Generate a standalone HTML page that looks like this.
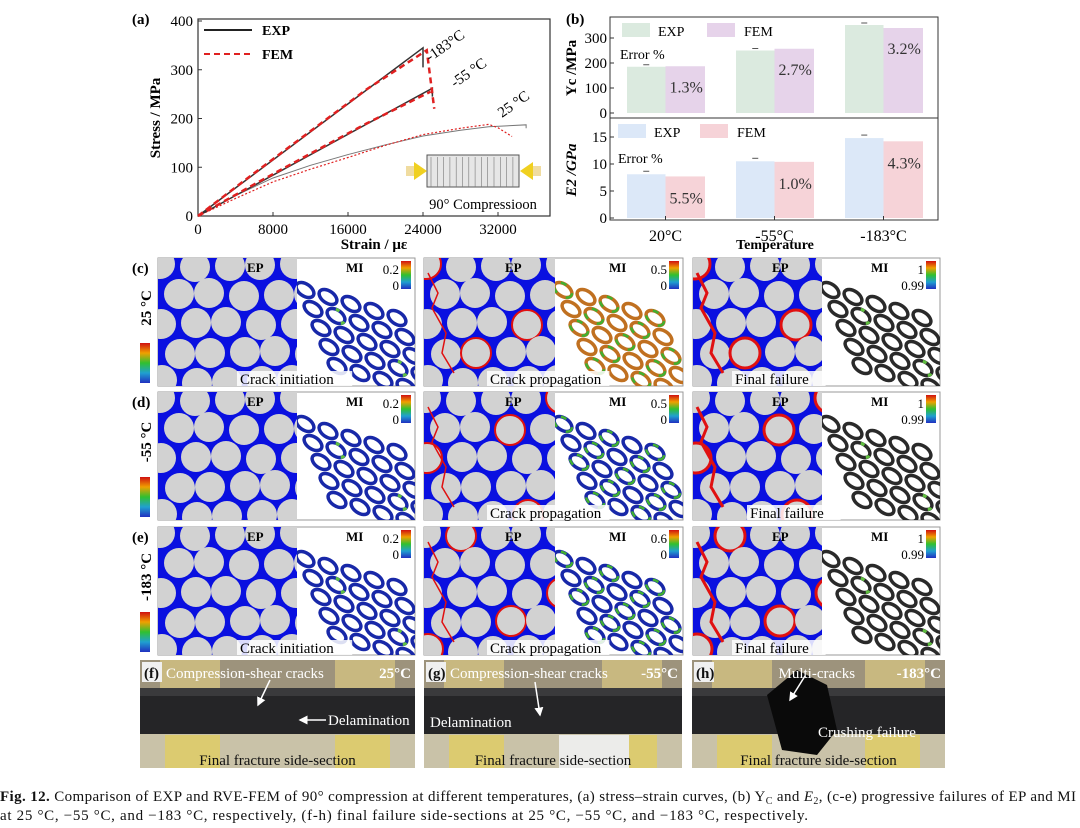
<!DOCTYPE html>
<html><head><meta charset="utf-8">
<style>
html,body{margin:0;padding:0;background:#fff;}
svg{display:block;font-family:"Liberation Serif",serif;}
</style></head>
<body>
<svg id="root" width="1080" height="828" viewBox="0 0 1080 828" xmlns="http://www.w3.org/2000/svg">
<defs>
<linearGradient id="cbar" x1="0" y1="0" x2="0" y2="1">
<stop offset="0" stop-color="#d01010"/><stop offset="0.25" stop-color="#f0a000"/><stop offset="0.5" stop-color="#30c030"/><stop offset="0.75" stop-color="#20a0d0"/><stop offset="1" stop-color="#2030c0"/>
</linearGradient>
<marker id="arr" markerWidth="6" markerHeight="6" refX="5" refY="3" orient="auto"><path d="M0,0 L6,3 L0,6 z" fill="#fff"/></marker>
</defs>
<g id="panelA"></g>
<g id="panelB"></g>
<g id="fe"></g>
<g id="photos"></g>
<g font-size="15" fill="#111">
<text x="0" y="801" textLength="1076" lengthAdjust="spacing"><tspan font-weight="bold">Fig. 12.</tspan>  Comparison of EXP and RVE-FEM of 90° compression at different temperatures, (a) stress–strain curves, (b) Y<tspan font-size="10" dy="3">C</tspan><tspan dy="-3"> and </tspan><tspan font-style="italic">E</tspan><tspan font-size="10" dy="3">2</tspan><tspan dy="-3">, (c-e) progressive failures of EP and MI</tspan></text>
<text x="0" y="820" textLength="808" lengthAdjust="spacing">at 25 °C, −55 °C, and −183 °C, respectively, (f-h) final failure side-sections at 25 °C, −55 °C, and −183 °C, respectively.</text>
</g>
</svg>
<script>
const NS="http://www.w3.org/2000/svg";
function mk(parent,tag,attrs,txt){const e=document.createElementNS(NS,tag);for(const k in attrs)e.setAttribute(k,attrs[k]);if(txt!==undefined)e.textContent=txt;parent.appendChild(e);return e;}

/* ---------- Panel (a) data ---------- */
const strainTicks=[0,8000,16000,24000,32000];
const stressTicks=[0,100,200,300,400];
const exp183X=[0,24000,24000];
const exp183Y=[0,345,305];
const fem183X=[0,6000,12000,18000,24400,25200];
const fem183Y=[0,88,174,260,340,220];
const exp55X=[0,25000,25000];
const exp55Y=[0,262,245];
const fem55X=[0,6000,12000,18000,24800];
const fem55Y=[0,65,128,190,255];
const exp25X=[0,4000,8000,12000,16000,20000,24000,28000,31000,35000,35000];
const exp25Y=[0,42,78,104,126,146,164,176,183,187,180];
const fem25X=[0,4000,8000,12000,16000,20000,24000,28000,31000,32000,33500];
const fem25Y=[0,36,70,96,120,145,167,180,188,181,163];

const A=document.getElementById('panelA');
const ax=v=>198+v*(300/32000);
const ay=v=>216-v*(195/400);
mk(A,'rect',{x:198,y:19,width:352,height:197,fill:'none',stroke:'#333','stroke-width':1.2});
strainTicks.forEach(t=>{const l=mk(A,'line',{x1:ax(t),x2:ax(t),y1:216,y2:212,stroke:'#333'});
 const tx=mk(A,'text',{x:ax(t),y:234,'font-size':15,'text-anchor':'middle'},t);});
stressTicks.forEach(t=>{mk(A,'line',{x1:198,x2:202,y1:ay(t),y2:ay(t),stroke:'#333'});
 const tx=mk(A,'text',{x:193,y:ay(t)+5,'font-size':15,'text-anchor':'end'},t);});
let t1=mk(A,'text',{x:374,y:249,'font-size':15,'font-weight':'bold','text-anchor':'middle'},'Strain / με');
let t2=mk(A,'text',{x:0,y:0,'font-size':15,'font-weight':'bold','text-anchor':'middle',transform:'translate(160,118) rotate(-90)'},'Stress / MPa');
mk(A,'text',{x:132,y:24,'font-size':15,'font-weight':'bold'},'(a)');
function series(xs,ys,style,name){const p=mk(A,'polyline',Object.assign({points:xs.map((x,i)=>ax(x)+','+ay(ys[i])).join(' '),fill:'none'},style));}
series(exp25X,exp25Y,{stroke:'#777','stroke-width':1},'exp-25c');
series(fem25X,fem25Y,{stroke:'#e02020','stroke-width':1.2,'stroke-dasharray':'2,2'},'fem-25c');
series(exp55X,exp55Y,{stroke:'#333','stroke-width':1.5},'exp-55c');
series(fem55X,fem55Y,{stroke:'#e02020','stroke-width':2.5,'stroke-dasharray':'6,4'},'fem-55c');
series(exp183X,exp183Y,{stroke:'#333','stroke-width':1.5},'exp-183c');
series(fem183X,fem183Y,{stroke:'#e02020','stroke-width':2.5,'stroke-dasharray':'6,4'},'fem-183c');
mk(A,'line',{x1:204,x2:252,y1:30,y2:30,stroke:'#222','stroke-width':2});
mk(A,'text',{x:262,y:35,'font-size':14,'font-weight':'bold'},'EXP');
mk(A,'line',{x1:204,x2:252,y1:54,y2:54,stroke:'#e02020','stroke-width':2,'stroke-dasharray':'6,4'});
mk(A,'text',{x:262,y:59,'font-size':14,'font-weight':'bold'},'FEM');
mk(A,'text',{x:0,y:0,'font-size':15,transform:'translate(430,62) rotate(-35)'},'-183°C');
mk(A,'text',{x:0,y:0,'font-size':15,transform:'translate(455,88) rotate(-35)'},'-55 °C');
mk(A,'text',{x:0,y:0,'font-size':15,transform:'translate(502,118) rotate(-35)'},'25 °C');
const ins=mk(A,'g',{});
mk(ins,'rect',{x:427,y:155,width:92,height:32,fill:'#e6e6e6',stroke:'#555'});
for(let i=0;i<14;i++)mk(ins,'line',{x1:431+i*6.3,x2:431+i*6.3,y1:157,y2:187,stroke:'#777','stroke-width':0.6});
mk(ins,'rect',{x:406,y:166,width:8,height:10,fill:'#f0dca0'});
mk(ins,'polygon',{points:'414,162 427,171 414,180',fill:'#f0d020'});
mk(ins,'rect',{x:533,y:166,width:8,height:10,fill:'#f0dca0'});
mk(ins,'polygon',{points:'533,162 520,171 533,180',fill:'#f0d020'});
mk(ins,'text',{x:483,y:209,'font-size':14.5,'text-anchor':'middle'},'90° Compressioon');

/* ---------- Panel (b) data ---------- */
const tempLabels=['20°C','-55°C','-183°C'];
const ycExp=[185,250,352];
const ycFem=[187,257,340];
const ycErr=['1.3%','2.7%','3.2%'];
const e2Exp=[8.1,10.5,14.8];
const e2Fem=[7.7,10.4,14.2];
const e2Err=['5.5%','1.0%','4.3%'];
const ycTicks=[0,100,200,300];
const e2Ticks=[0,5,10,15];

const B=document.getElementById('panelB');
const bx0=610,bx1=938;
const yc=v=>113-v*0.25;
const e2=v=>218-v*(27/5);
const groupX=i=>627+i*109;
const bw=38.5;
mk(B,'text',{x:566,y:24,'font-size':15,'font-weight':'bold'},'(b)');
ycExp.forEach((v,i)=>{let r=mk(B,'rect',{x:groupX(i),y:yc(v),width:bw,height:113-yc(v),fill:'#dbeadf'});
 mk(B,'line',{x1:groupX(i)+bw/2-3,x2:groupX(i)+bw/2+3,y1:yc(v)-2,y2:yc(v)-2,stroke:'#555'});});
ycFem.forEach((v,i)=>{let r=mk(B,'rect',{x:groupX(i)+bw,y:yc(v),width:bw+1,height:113-yc(v),fill:'#e6d3ea'});
 mk(B,'text',{x:groupX(i)+bw+4,y:yc(v)+26,'font-size':16,fill:'#333'},ycErr[i]);});
e2Exp.forEach((v,i)=>{let r=mk(B,'rect',{x:groupX(i),y:e2(v),width:bw,height:218-e2(v),fill:'#dce8f8'});
 mk(B,'line',{x1:groupX(i)+bw/2-3,x2:groupX(i)+bw/2+3,y1:e2(v)-3,y2:e2(v)-3,stroke:'#555'});});
e2Fem.forEach((v,i)=>{let r=mk(B,'rect',{x:groupX(i)+bw,y:e2(v),width:bw+1,height:218-e2(v),fill:'#f6d3d8'});
 mk(B,'text',{x:groupX(i)+bw+4,y:e2(v)+27,'font-size':16,fill:'#333'},e2Err[i]);});
mk(B,'rect',{x:bx0,y:17,width:bx1-bx0,height:101,fill:'none',stroke:'#333'});
mk(B,'rect',{x:bx0,y:118,width:bx1-bx0,height:102,fill:'none',stroke:'#333'});
ycTicks.forEach(t=>{mk(B,'line',{x1:bx0,x2:bx0+4,y1:yc(t),y2:yc(t),stroke:'#333'});let tx=mk(B,'text',{x:bx0-3,y:yc(t)+5,'font-size':15,'text-anchor':'end'},t);});
e2Ticks.forEach(t=>{mk(B,'line',{x1:bx0,x2:bx0+4,y1:e2(t),y2:e2(t),stroke:'#333'});let tx=mk(B,'text',{x:bx0-3,y:e2(t)+5,'font-size':15,'text-anchor':'end'},t);});
tempLabels.forEach((l,i)=>{mk(B,'line',{x1:groupX(i)+bw,x2:groupX(i)+bw,y1:220,y2:216,stroke:'#333'});let tx=mk(B,'text',{x:groupX(i)+bw,y:241,'font-size':16,'text-anchor':'middle'},l);});
mk(B,'text',{x:775,y:249,'font-size':14,'font-weight':'bold','text-anchor':'middle'},'Temperature');
mk(B,'text',{x:0,y:0,'font-size':15,'font-weight':'bold','text-anchor':'middle',transform:'translate(576,68) rotate(-90)'},'Yc /MPa');
mk(B,'text',{x:0,y:0,'font-size':15,'font-weight':'bold','font-style':'italic','text-anchor':'middle',transform:'translate(576,170) rotate(-90)'},'E2 /GPa');
mk(B,'rect',{x:622,y:23,width:28,height:14,fill:'#dbeadf'});mk(B,'text',{x:658,y:36,'font-size':14},'EXP');
mk(B,'rect',{x:707,y:23,width:28,height:14,fill:'#e6d3ea'});mk(B,'text',{x:744,y:36,'font-size':14},'FEM');
mk(B,'text',{x:620,y:59,'font-size':14},'Error %');
mk(B,'rect',{x:618,y:124,width:28,height:14,fill:'#dce8f8'});mk(B,'text',{x:654,y:137,'font-size':14},'EXP');
mk(B,'rect',{x:700,y:124,width:28,height:14,fill:'#f6d3d8'});mk(B,'text',{x:737,y:137,'font-size':14},'FEM');
mk(B,'text',{x:618,y:163,'font-size':14},'Error %');

/* ---------- FE panels ---------- */
const F=document.getElementById('fe');
const rowsY=[258,392,527];
const rowH=128;
const cols=[{x:158,ep:139,w:257},{x:424,ep:131,w:259},{x:693,ep:129,w:247}];
const rowLab=['(c)','(d)','(e)'];
const rowTemp=['25 °C','-55 °C','-183 °C'];
const miMax=[['0.2','0.5','1'],['0.2','0.5','1'],['0.2','0.6','1']];
const caps=[['Crack initiation','Crack propagation','Final failure'],['','Crack propagation','Final failure'],['Crack initiation','Crack propagation','Final failure']];
const capX=[[240,490,735],[0,490,750],[240,490,735]];
rowsY.forEach((y0,r)=>{
 mk(F,'text',{x:132,y:y0+15,'font-size':15,'font-weight':'bold'},rowLab[r]);
 mk(F,'text',{x:0,y:0,'font-size':15,'font-weight':'bold','text-anchor':'middle',transform:`translate(151,${y0+50}) rotate(-90)`},rowTemp[r]);
 mk(F,'rect',{x:140,y:y0+85,width:10,height:40,fill:'url(#cbar)'});
 cols.forEach((c,ci)=>{
  const g=mk(F,'g',{});
  mk(g,'rect',{x:c.x,y:y0,width:c.w,height:rowH,fill:'#fff',stroke:'#999'});
  const cp=mk(g,'clipPath',{id:`cp${r}${ci}`});mk(cp,'rect',{x:c.x,y:y0,width:c.ep,height:rowH});
  const ep=mk(g,'g',{'clip-path':`url(#cp${r}${ci})`});
  mk(ep,'rect',{x:c.x,y:y0,width:c.ep,height:rowH,fill:'#0a10e0'});
  for(let j=0;j<5;j++)for(let i=0;i<5;i++){
   const cx=c.x+4+i*33+(j%2)*16+((i*7+j*3)%5)-2, cy=y0+8+j*29+((i*3+j)%4)-2;
   const red=(ci>0&&((i*5+j*3+r)%7==0));
   mk(ep,'circle',{cx,cy,r:15,fill:'#d2d2d2',stroke:red?'#e01010':'none','stroke-width':ci==2?3:2});
  }
  if(ci>0){mk(ep,'path',{d:`M${c.x+4},${y0+15} l10,20 l-6,15 l14,25 l-4,20 l12,20`,stroke:'#e01010','stroke-width':ci==2?3:1.5,fill:'none'});}
  mk(g,'text',{x:c.x+c.ep-50,y:y0+14,'font-size':13,'font-weight':'bold'},'EP');
  const mx=c.x+c.ep, mw=c.w-c.ep;
  const cp2=mk(g,'clipPath',{id:`cq${r}${ci}`});mk(cp2,'rect',{x:mx,y:y0,width:mw,height:rowH});
  const mi=mk(g,'g',{'clip-path':`url(#cq${r}${ci})`});
  const col=ci==2?'#2a2a2a':(ci==1&&r==0?'#c07020':'#1828a8');
  for(let j=0;j<5;j++)for(let i=0;i<5;i++){
   const cx=mx+8+i*23+j*8, cy=y0+32+j*19+i*7;
   if(cy>y0+rowH+5) continue;
   mk(mi,'ellipse',{cx,cy,rx:10,ry:6,fill:'none',stroke:col,'stroke-width':3.5,transform:`rotate(35 ${cx} ${cy})`});
   if(ci==1&&(i+j)%2==0)mk(mi,'ellipse',{cx,cy,rx:10,ry:6,fill:'none',stroke:'#40b030','stroke-width':2.5,'stroke-dasharray':'6,10',transform:`rotate(35 ${cx} ${cy})`});
   if(ci!=1&&(i*j)%4==1)mk(mi,'ellipse',{cx,cy,rx:10,ry:6,fill:'none',stroke:'#60c040','stroke-width':3,'stroke-dasharray':'4,30',transform:`rotate(35 ${cx} ${cy})`});
  }
  mk(g,'text',{x:mx+mw/2-10,y:y0+14,'font-size':13,'font-weight':'bold'},'MI');
  mk(g,'rect',{x:c.x+c.w-14,y:y0+3,width:10,height:28,fill:'url(#cbar)'});
  mk(g,'text',{x:c.x+c.w-16,y:y0+16,'font-size':13,'text-anchor':'end'},miMax[r][ci]);
  mk(g,'text',{x:c.x+c.w-16,y:y0+32,'font-size':13,'text-anchor':'end'},ci==2?'0.99':'0');
  if(caps[r][ci]){const w=caps[r][ci].length*7.2;mk(g,'rect',{x:capX[r][ci]-3,y:y0+rowH-15,width:w,height:15,fill:'#fff',opacity:0.85});
   mk(g,'text',{x:capX[r][ci],y:y0+rowH-2,'font-size':15},caps[r][ci]);}
 });
});

/* ---------- Photos ---------- */
const P=document.getElementById('photos');
const ph=[{x:140,w:275,l:'(f)',t:'25°C',top:'Compression-shear cracks'},{x:424,w:258,l:'(g)',t:'-55°C',top:'Compression-shear cracks'},{x:692,w:253,l:'(h)',t:'-183°C',top:'Multi-cracks'}];
ph.forEach((p,i)=>{
 const g=mk(P,'g',{});
 mk(g,'rect',{x:p.x,y:660,width:p.w,height:108,fill:'#c9c2a8'});
 mk(g,'rect',{x:p.x,y:660,width:p.w,height:30,fill:'#9d937c'});
 mk(g,'rect',{x:p.x+20,y:660,width:60,height:30,fill:'#c8b880'});
 mk(g,'rect',{x:p.x+p.w-80,y:660,width:60,height:30,fill:'#c8b880'});
 mk(g,'rect',{x:p.x+25,y:735,width:55,height:33,fill:'#dccb70'});
 mk(g,'rect',{x:p.x+p.w-80,y:735,width:55,height:33,fill:'#dccb70'});
 mk(g,'rect',{x:p.x,y:688,width:p.w,height:46,fill:'#252527'});
 mk(g,'rect',{x:p.x,y:688,width:p.w,height:8,fill:'#3a3a3c'});
 if(i==2)mk(g,'path',{d:`M${p.x+75},695 l30,-25 l30,15 l10,45 l-20,25 l-35,-5 z`,fill:'#0a0a0a'});
 if(i==1)mk(g,'rect',{x:p.x+135,y:735,width:70,height:33,fill:'#ececea'});
 mk(g,'rect',{x:p.x+2,y:662,width:20,height:20,fill:'#f0f0f0'});
 mk(g,'text',{x:p.x+4,y:678,'font-size':15,'font-weight':'bold',fill:'#111'},p.l);
 mk(g,'text',{x:p.x+(i==2?p.w/2-40:26),y:678,'font-size':15,fill:'#fff'},p.top);
 mk(g,'text',{x:p.x+p.w-4,y:678,'font-size':15,'font-weight':'bold',fill:'#fff','text-anchor':'end'},p.t);
 mk(g,'text',{x:p.x+p.w/2,y:765,'font-size':15,'text-anchor':'middle',fill:'#111'},'Final fracture side-section');
});
mk(P,'text',{x:328,y:725,'font-size':15,fill:'#fff'},'Delamination');
mk(P,'line',{x1:326,x2:300,y1:720,y2:720,stroke:'#fff','stroke-width':1.5,'marker-end':'url(#arr)'});
mk(P,'line',{x1:270,x2:258,y1:680,y2:705,stroke:'#fff','stroke-width':1.5,'marker-end':'url(#arr)'});
mk(P,'text',{x:430,y:727,'font-size':15,fill:'#fff'},'Delamination');
mk(P,'line',{x1:535,x2:540,y1:682,y2:715,stroke:'#fff','stroke-width':1.5,'marker-end':'url(#arr)'});
mk(P,'text',{x:818,y:737,'font-size':15,fill:'#fff'},'Crushing failure');
mk(P,'line',{x1:805,x2:790,y1:676,y2:700,stroke:'#fff','stroke-width':1.5,'marker-end':'url(#arr)'});
</script>
</body></html>
